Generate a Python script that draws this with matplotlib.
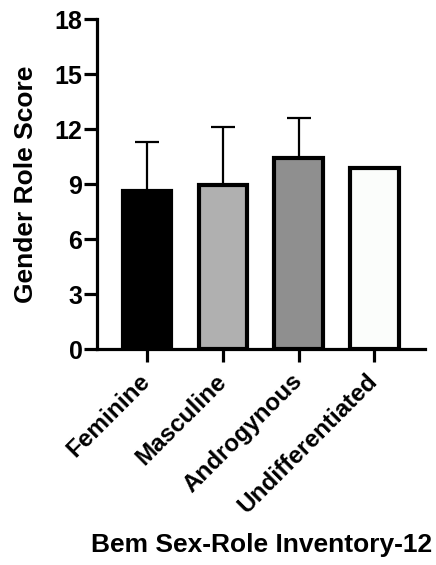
import numpy as np
import matplotlib
matplotlib.use('Agg')
import matplotlib.pyplot as plt

plt.rcParams['font.family'] = ['Liberation Sans', 'DejaVu Sans']
plt.rcParams['font.weight'] = 'bold'

# Mean score and upper SD per Bem group
groups = ['Feminine', 'Masculine', 'Androgynous', 'Undifferentiated']
means = [8.65, 8.95, 10.45, 9.9]
sds = [2.65, 3.15, 2.15, None]
colors = ['#000000', '#b0b0b0', '#8f8f8f', '#fbfdfb']

fig = plt.figure(figsize=(4.36, 5.65), dpi=100)
ax = fig.add_axes([0.2225, 0.382, 0.7525, 0.584])

x = np.arange(len(groups))
lw = 2.3

# error bars first so the bars cover their lower half
for i, (m, s) in enumerate(zip(means, sds)):
    if s is None:
        continue
    ax.errorbar(x[i], m, yerr=[[0], [s]], fmt='none', ecolor='black',
                elinewidth=1.6, capsize=8.5, capthick=1.6, zorder=1)

ax.bar(x, means, width=0.64, color=colors, edgecolor='black',
       linewidth=3, zorder=2)

ax.set_xlim(-0.66, 3.67)
ax.set_ylim(0, 18)
ax.set_yticks([0, 3, 6, 9, 12, 15, 18])
ax.set_xticks(x)
ax.set_xticklabels(groups, rotation=45, ha='right', va='center',
                   rotation_mode='anchor', fontsize=17.5, fontweight='bold')

for lab in ax.get_yticklabels():
    lab.set_fontsize(18)
    lab.set_fontweight('bold')

ax.spines['top'].set_visible(False)
ax.spines['right'].set_visible(False)
ax.spines['left'].set_linewidth(lw)
ax.spines['bottom'].set_linewidth(lw)
ax.tick_params(axis='y', length=9.5, width=lw, pad=1)
ax.tick_params(axis='x', length=9.5, width=lw, pad=11)

ax.set_ylabel('Gender Role Score', fontsize=19, fontweight='bold', labelpad=12)
fig.text(0.6, 0.035, 'Bem Sex-Role Inventory-12', ha='center', va='center',
         fontsize=19, fontweight='bold')

fig.savefig('out.png', dpi=100)
